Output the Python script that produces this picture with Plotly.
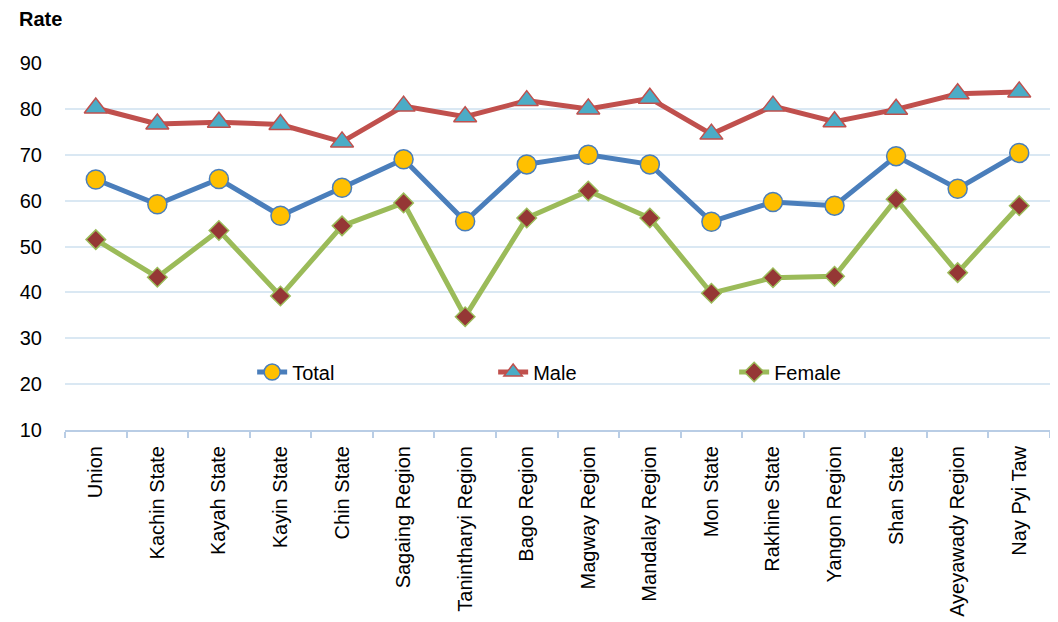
import plotly.graph_objects as go

categories = ["Union", "Kachin State", "Kayah State", "Kayin State", "Chin State",
              "Sagaing Region", "Tanintharyi Region", "Bago Region", "Magway Region",
              "Mandalay Region", "Mon State", "Rakhine State", "Yangon Region",
              "Shan State", "Ayeyawady Region", "Nay Pyi Taw"]
total = [64.6, 59.2, 64.7, 56.7, 62.8, 69.0, 55.5, 67.9, 70.0, 67.9, 55.4, 59.7, 58.9, 69.7, 62.6, 70.4]
male = [80.2, 76.7, 77.1, 76.6, 72.8, 80.6, 78.3, 81.8, 80.0, 82.3, 74.5, 80.6, 77.2, 79.9, 83.3, 83.7]
female = [51.5, 43.3, 53.5, 39.2, 54.5, 59.5, 34.7, 56.2, 62.1, 56.2, 39.8, 43.2, 43.5, 60.3, 44.3, 58.9]
yticks = [10, 20, 30, 40, 50, 60, 70, 80, 90]

FONT = "Liberation Sans, Arial, sans-serif"

fig = go.Figure()
fig.add_trace(go.Scatter(
    x=categories, y=total, name="Total", mode="lines+markers",
    line=dict(color="#4A7EBB", width=5),
    marker=dict(symbol="circle", size=19, color="#FFC000",
                line=dict(color="#4A7EBB", width=1.5))))
fig.add_trace(go.Scatter(
    x=categories, y=male, name="Male", mode="lines+markers",
    line=dict(color="#C0504D", width=5),
    marker=dict(symbol="triangle-up", size=20, color="#4BACC6",
                line=dict(color="#C0504D", width=1.5))))
fig.add_trace(go.Scatter(
    x=categories, y=female, name="Female", mode="lines+markers",
    line=dict(color="#9BBB59", width=5),
    marker=dict(symbol="diamond", size=15, color="#953735",
                line=dict(color="#9BBB59", width=1.5))))

fig.update_layout(
    width=1058, height=622,
    margin=dict(l=50, r=16, t=55, b=200, pad=0),
    paper_bgcolor="white", plot_bgcolor="white",
    font=dict(family=FONT, size=20, color="#000000"),
    showlegend=True,
    legend=dict(orientation="h", x=0.19, xanchor="left", y=0.158, yanchor="middle",
                bgcolor="rgba(0,0,0,0)", font=dict(size=20),
                entrywidth=196, entrywidthmode="pixels"),
    xaxis=dict(
        type="category", range=[-0.5, 15.5],
        showgrid=False, showline=True, linecolor="#B9CDE5", linewidth=2,
        ticks="outside", tickson="boundaries", ticklen=6, tickcolor="#B9CDE5", tickwidth=2,
        tickangle=-90, tickfont=dict(size=20), ticklabelstandoff=6),
    yaxis=dict(
        range=[10, 90], tickvals=yticks, showgrid=True, gridcolor="#DAE8F3", gridwidth=2,
        zeroline=False, showline=False, ticks="", tickfont=dict(size=20),
        ticklabelstandoff=22),
    annotations=[dict(text="<b>Rate</b>", xref="paper", yref="paper",
                      x=-0.0484, y=1.12, xanchor="left", yanchor="middle",
                      showarrow=False, font=dict(size=20))],
)

fig.write_html("out.html")
